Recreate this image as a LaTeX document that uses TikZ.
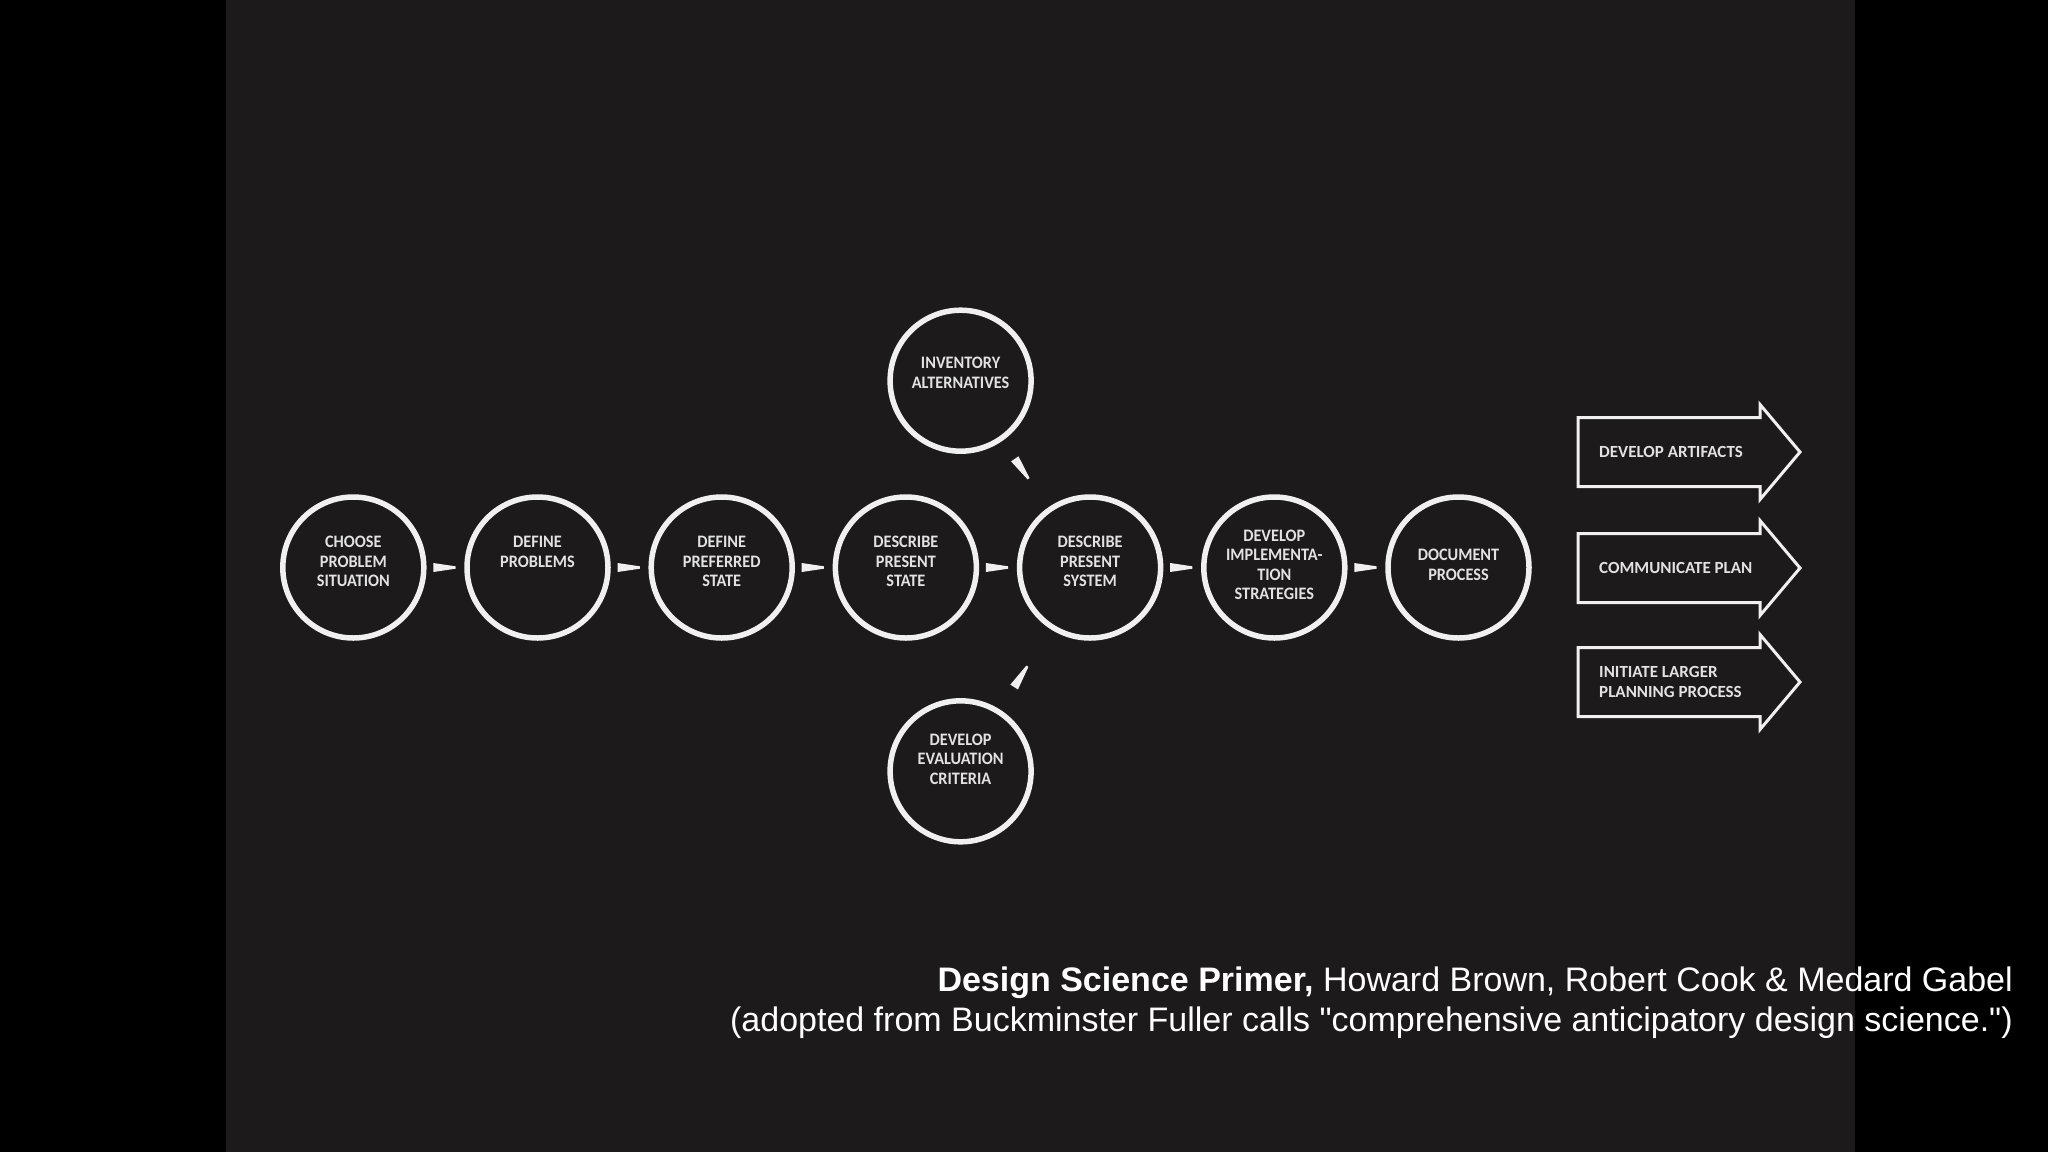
\documentclass[tikz,border=0pt]{standalone}
\usepackage{fontspec}
\newfontfamily\capfont{Liberation Sans}
\newfontfamily\lblfont{Carlito}[FakeStretch=0.93]
\newfontfamily\arrfont{Carlito}
\usetikzlibrary{calc}
\definecolor{panel}{HTML}{1C1A1A}
\definecolor{ink}{HTML}{F0F0F0}
\definecolor{lblc}{HTML}{E2E2E2}
\newcommand{\wedgeconn}[4]{%
  \path (#1) -- (#2) coordinate[pos=#3] (ws) coordinate[pos=#4] (we);
  \fill[ink] ($(ws)!4.5pt!90:(we)$) -- ($(ws)!4.5pt!-90:(we)$)
    -- ($(we)!1.2pt!90:(ws)$) -- ($(we)!1.2pt!-90:(ws)$) -- cycle;}
\newcommand{\outarrow}[3]{%
  \node[arrtext, anchor=west] (#1) at (1599,#2) {#3};
  \draw[arrowline] ($(#1.west)+(-21,-34.5)$) -- ++(182,0) -- ++(0,-13)
    -- ($(#1.west)+(201,0)$) -- ($(#1.west)+(161,47.5)$) -- ++(0,-13)
    -- ($(#1.west)+(-21,34.5)$) -- cycle;}
\begin{document}
\begin{tikzpicture}[x=1pt,y=-1pt,
  circ/.style={circle, draw=ink, line width=5.5pt, minimum size=141pt, inner sep=0pt},
  lbl/.style={text=lblc, font=\lblfont\bfseries\fontsize{17.5}{19.5}\selectfont, align=center, inner sep=0pt},
  arrtext/.style={text=lblc, font=\arrfont\bfseries\fontsize{17}{20}\selectfont, align=left, inner sep=0pt},
  arrowline/.style={draw=ink, line width=3pt, line join=miter},
  capt/.style={text=white, font=\capfont\fontsize{34}{40}\selectfont, inner sep=0pt, anchor=base east}]
\fill[black] (0,0) rectangle (2048,1152);
\fill[panel] (226,0) rectangle (1855,1152);
\useasboundingbox (0,0) rectangle (2048,1152);

% main row
\node[circ] (c1) at (353.3,567.5) {};
\node[circ] (c2) at (537.5,567.5) {};
\node[circ] (c3) at (721.7,567.5) {};
\node[circ] (c4) at (905.9,567.5) {};
\node[circ] (c5) at (1090.1,567.5) {};
\node[circ] (c6) at (1274.3,567.5) {};
\node[circ] (c7) at (1458.5,567.5) {};
\node[circ] (inv) at (960.6,380.7) {};
\node[circ] (eva) at (960.6,771.3) {};

\node[lbl] (t1) at (353.3,561.6) {CHOOSE\\PROBLEM\\SITUATION};
\node[lbl] (t2) at (537.5,551.8) {DEFINE\\PROBLEMS};
\node[lbl] (t3) at (721.7,561.6) {DEFINE\\PREFERRED\\STATE};
\node[lbl] (t4) at (905.9,561.6) {DESCRIBE\\PRESENT\\STATE};
\node[lbl] (t5) at (1090.1,561.6) {DESCRIBE\\PRESENT\\SYSTEM};
\node[lbl] (t6) at (1274.3,564.9) {DEVELOP\\IMPLEMENTA-\\TION\\STRATEGIES};
\node[lbl] (t7) at (1458.5,564.9) {DOCUMENT\\PROCESS};
\node[lbl] (tinv) at (960.6,372.9) {INVENTORY\\ALTERNATIVES};
\node[lbl] (teva) at (960.6,759.0) {DEVELOP\\EVALUATION\\CRITERIA};

% connectors
\wedgeconn{c1}{c2}{0.18}{0.77}
\wedgeconn{c2}{c3}{0.18}{0.77}
\wedgeconn{c3}{c4}{0.18}{0.77}
\wedgeconn{c4}{c5}{0.18}{0.77}
\wedgeconn{c5}{c6}{0.18}{0.77}
\wedgeconn{c6}{c7}{0.18}{0.77}
\wedgeconn{inv}{c5}{0.27}{0.57}
\wedgeconn{eva}{c5}{0.28}{0.54}

% output arrows
\outarrow{a1}{452}{DEVELOP ARTIFACTS}
\outarrow{a2}{568}{COMMUNICATE PLAN}
\outarrow{a3}{682}{INITIATE LARGER\\PLANNING PROCESS}

% caption
\node[capt] (cap1) at (2013,991) {\textbf{Design Science Primer,} Howard Brown, Robert Cook \& Medard Gabel};
\node[capt] (cap2) at (2013,1031) {(adopted from Buckminster Fuller calls "comprehensive anticipatory design science.")};
\end{tikzpicture}
\end{document}
